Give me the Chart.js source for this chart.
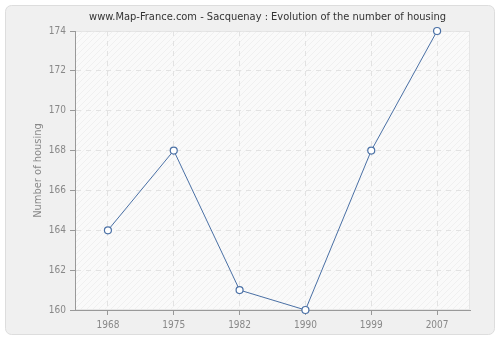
<!DOCTYPE html>
<html><head><meta charset="utf-8">
<script src="https://cdn.jsdelivr.net/npm/chart.js@4/dist/chart.umd.min.js"></script>
<style>html,body{margin:0;padding:0;background:#fff}#wrap{width:500px;height:340px}</style>
</head><body><div id="wrap"><canvas id="c" width="500" height="340"></canvas></div>
<script>
const years = ["1968", "1975", "1982", "1990", "1999", "2007"];
const housing = [164, 168, 161, 160, 168, 174];
const yTicks = [160, 162, 164, 166, 168, 170, 172, 174];
const chartTitle = "www.Map-France.com - Sacquenay : Evolution of the number of housing";
const yTitle = "Number of housing";
const FONT = "'DejaVu Sans Condensed', 'DejaVu Sans', sans-serif";

function makePattern(ctx){
  const p = document.createElement('canvas'); p.width = 6; p.height = 6;
  const g = p.getContext('2d');
  g.fillStyle = '#fafafa'; g.fillRect(0,0,6,6);
  g.strokeStyle = '#f0f0f0'; g.lineWidth = 1;
  g.beginPath(); g.moveTo(0,6); g.lineTo(6,0); g.moveTo(-3,3); g.lineTo(3,-3); g.moveTo(3,9); g.lineTo(9,3); g.stroke();
  return ctx.createPattern(p,'repeat');
}
const bgPlugin = {
  id:'bg',
  beforeDraw(chart){
    const ctx = chart.ctx, a = chart.chartArea;
    ctx.save();
    ctx.fillStyle = '#ffffff'; ctx.fillRect(0,0,chart.width,chart.height);
    ctx.beginPath();
    ctx.roundRect(5.5,5.5,489,329,6);
    ctx.fillStyle = '#f0f0f0'; ctx.fill();
    ctx.strokeStyle = '#dddddd'; ctx.lineWidth = 1; ctx.stroke();
    ctx.fillStyle = makePattern(ctx);
    ctx.fillRect(a.left, a.top, a.right-a.left, a.bottom-a.top);
    ctx.strokeStyle = '#e6e6e6';
    ctx.strokeRect(a.left+0.5, a.top+0.5, a.right-a.left-1, a.bottom-a.top-1);
    ctx.fillStyle = '#333333';
    ctx.font = "11px " + FONT;
    ctx.textAlign = 'center'; ctx.textBaseline = 'middle';
    ctx.fillText(chartTitle, 267.5, 17.5);
    ctx.restore();
  }
};
new Chart(document.getElementById('c'), {
  type:'line',
  data:{labels:years, datasets:[{data:housing, borderColor:'#4a70a5', borderWidth:1, pointRadius:3.5, pointHoverRadius:3.5, pointBackgroundColor:'#ffffff', pointBorderColor:'#4a70a5', pointBorderWidth:1.2, tension:0, clip:false, fill:false}]},
  options:{
    responsive:false, animation:false, devicePixelRatio:1,
    layout:{padding:{left:0, right:30, top:31, bottom:0}},
    plugins:{legend:{display:false}, tooltip:{enabled:false}, title:{display:false}},
    scales:{
      x:{type:'category', offset:true,
        grid:{color:'#e2e2e2', lineWidth:1, drawTicks:true, tickLength:5, tickColor:'#999999', tickBorderDash:[]},
        border:{color:'#999999', width:1, dash:[5,5]},
        ticks:{color:'#888888', font:{family:FONT, size:10}, padding:4, maxRotation:0},
        afterFit(s){ s.height = 30; }
      },
      y:{min:160, max:174,
        afterBuildTicks(s){ s.ticks = yTicks.map(v=>({value:v})); },
        grid:{color:'#e2e2e2', lineWidth:1, drawTicks:true, tickLength:5, tickColor:'#999999', tickBorderDash:[]},
        border:{color:'#999999', width:1, dash:[5,5]},
        ticks:{color:'#888888', font:{family:FONT, size:10}, padding:4},
        title:{display:true, text:yTitle, color:'#888888', font:{family:FONT, size:11, lineHeight:1.2}, padding:{top:32,bottom:0}},
        afterFit(s){ s.width = 75; }
      }
    }
  },
  plugins:[bgPlugin]
});
</script></body></html>
